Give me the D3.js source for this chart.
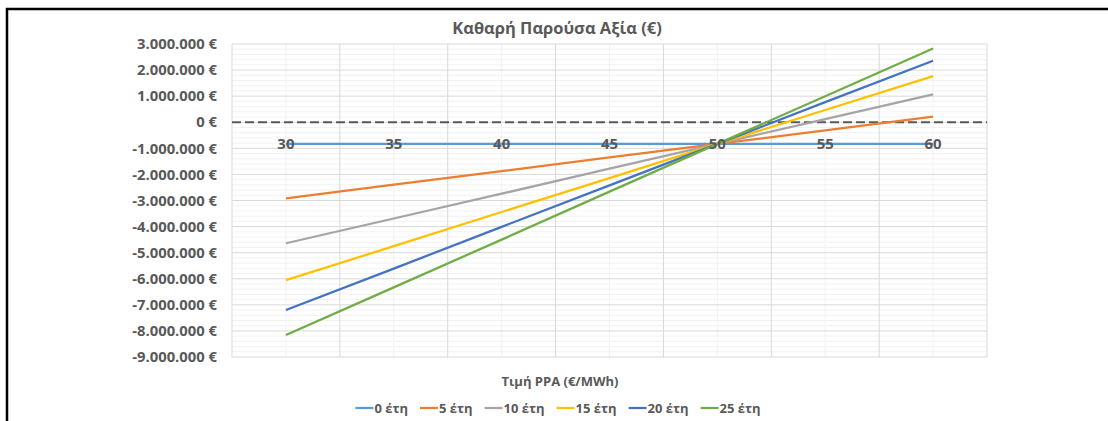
<!DOCTYPE html>
<meta charset="utf-8">
<title>Καθαρή Παρούσα Αξία</title>
<script src="https://d3js.org/d3.v7.min.js"></script>
<style>
  body { margin: 0; background: #fff; }
  text { font-family: "Open Sans", "Noto Sans", sans-serif; font-weight: bold; fill: #595959; }
</style>
<body>
<div id="chart"></div>
<script>
// categories (PPA price, €/MWh)
var prices = ["30", "35", "40", "45", "50", "55", "60"];
var seriesNames = ["0 έτη", "5 έτη", "10 έτη", "15 έτη", "20 έτη", "25 έτη"];
var colors = ["#5B9BD5", "#ED7D31", "#A5A5A5", "#FFC000", "#4472C4", "#70AD47"];

// NPV values (€)
var npv0  = [-830000, -830000, -830000, -830000, -830000, -830000, -830000];
var npv5  = [-2916000, -2394000, -1873000, -1351000, -830000, -309000, 213000];
var npv10 = [-4640000, -3690000, -2740000, -1780000, -830000, 120000, 1070000];
var npv15 = [-6050000, -4750000, -3440000, -2140000, -830000, 470000, 1770000];
var npv20 = [-7200000, -5610000, -4010000, -2420000, -830000, 770000, 2360000];
var npv25 = [-8160000, -6330000, -4500000, -2660000, -830000, 1000000, 2830000];
var allSeries = [npv0, npv5, npv10, npv15, npv20, npv25];

var yTicks = [3e6, 2e6, 1e6, 0, -1e6, -2e6, -3e6, -4e6, -5e6, -6e6, -7e6, -8e6, -9e6];

var W = 1108, H = 421;
var plot = {left: 232, right: 987, top: 44, bottom: 357};

var svg = d3.select("#chart").append("svg")
    .attr("width", W).attr("height", H);

// chart frame (only top and left edges show in the crop)
svg.append("path")
    .attr("d", "M7,421 V9 H1108")
    .attr("fill", "none").attr("stroke", "#000").attr("stroke-width", 2.5);

var x = d3.scaleBand().domain(prices).range([plot.left, plot.right]);
var y = d3.scaleLinear().domain([-9e6, 3e6]).range([plot.bottom, plot.top]);

var loc = d3.formatLocale({decimal: ",", thousands: ".", grouping: [3], currency: ["", " €"], minus: "-"});
var fmt = loc.format("$,.0f");

// minor horizontal grid
var minor = [];
for (var v = -9e6; v <= 3e6; v += 2e5) if (v % 1e6 !== 0) minor.push(v);
svg.append("g").selectAll("line").data(minor).enter().append("line")
    .attr("x1", plot.left).attr("x2", plot.right)
    .attr("y1", function(d) { return y(d); }).attr("y2", function(d) { return y(d); })
    .attr("stroke", "#F2F2F2").attr("stroke-width", 1);

// minor vertical grid (category centres)
svg.append("g").selectAll("line").data(prices).enter().append("line")
    .attr("x1", function(d) { return x(d) + x.bandwidth() / 2; })
    .attr("x2", function(d) { return x(d) + x.bandwidth() / 2; })
    .attr("y1", plot.top).attr("y2", plot.bottom)
    .attr("stroke", "#F2F2F2").attr("stroke-width", 1);

// major horizontal grid
svg.append("g").selectAll("line").data(yTicks).enter().append("line")
    .attr("x1", plot.left).attr("x2", plot.right)
    .attr("y1", function(d) { return y(d); }).attr("y2", function(d) { return y(d); })
    .attr("stroke", "#D9D9D9").attr("stroke-width", 1);

// major vertical grid (category boundaries)
var bounds = prices.map(function(d) { return x(d); }).concat([plot.right]);
svg.append("g").selectAll("line").data(bounds).enter().append("line")
    .attr("x1", function(d) { return d; }).attr("x2", function(d) { return d; })
    .attr("y1", plot.top).attr("y2", plot.bottom)
    .attr("stroke", "#D9D9D9").attr("stroke-width", 1);

// y labels
svg.append("g").selectAll("text").data(yTicks).enter().append("text")
    .attr("x", 217).attr("y", function(d) { return y(d); })
    .attr("dy", "0.35em").attr("text-anchor", "end")
    .style("font-size", "14.8px")
    .text(function(d) { return fmt(d); });

// horizontal axis at 0, dashed
svg.append("line")
    .attr("x1", plot.left).attr("x2", plot.right)
    .attr("y1", y(0)).attr("y2", y(0))
    .attr("stroke", "#595959").attr("stroke-width", 2)
    .attr("stroke-dasharray", "9,4");

// lines
var line = d3.line()
    .x(function(d, i) { return x(prices[i]) + x.bandwidth() / 2; })
    .y(function(d) { return y(d); });

svg.append("g").selectAll("path").data(allSeries).enter().append("path")
    .attr("d", line)
    .attr("fill", "none")
    .attr("stroke", function(d, i) { return colors[i]; })
    .attr("stroke-width", 2.25);

// x labels (under the axis, drawn over the lines)
svg.append("g").selectAll("text").data(prices).enter().append("text")
    .attr("x", function(d) { return x(d) + x.bandwidth() / 2; })
    .attr("y", y(0) + 27)
    .attr("text-anchor", "middle")
    .style("font-size", "15px")
    .text(function(d) { return d; });

// title
svg.append("text")
    .attr("x", 557).attr("y", 34)
    .attr("text-anchor", "middle")
    .style("font-size", "16.5px")
    .text("Καθαρή Παρούσα Αξία (€)");

// axis title
svg.append("text")
    .attr("x", 560).attr("y", 386)
    .attr("text-anchor", "middle")
    .style("font-size", "13px")
    .text("Τιμή PPA (€/MWh)");

// legend
var legend = svg.append("g");
var items = legend.selectAll("g").data(seriesNames).enter().append("g");
items.append("line")
    .attr("x1", 0).attr("x2", 18).attr("y1", 0).attr("y2", 0)
    .attr("stroke", function(d, i) { return colors[i]; })
    .attr("stroke-width", 2.25);
items.append("text")
    .attr("x", 19).attr("dy", "0.35em")
    .style("font-size", "13px")
    .text(function(d) { return d; });
var xpos = 0;
items.each(function() {
  var w = 19 + d3.select(this).select("text").node().getComputedTextLength();
  d3.select(this).attr("transform", "translate(" + xpos + ",0)");
  xpos += w + 12;
});
var total = xpos - 12;
legend.attr("transform", "translate(" + (558 - total / 2) + ",408)");
</script>
</body>
